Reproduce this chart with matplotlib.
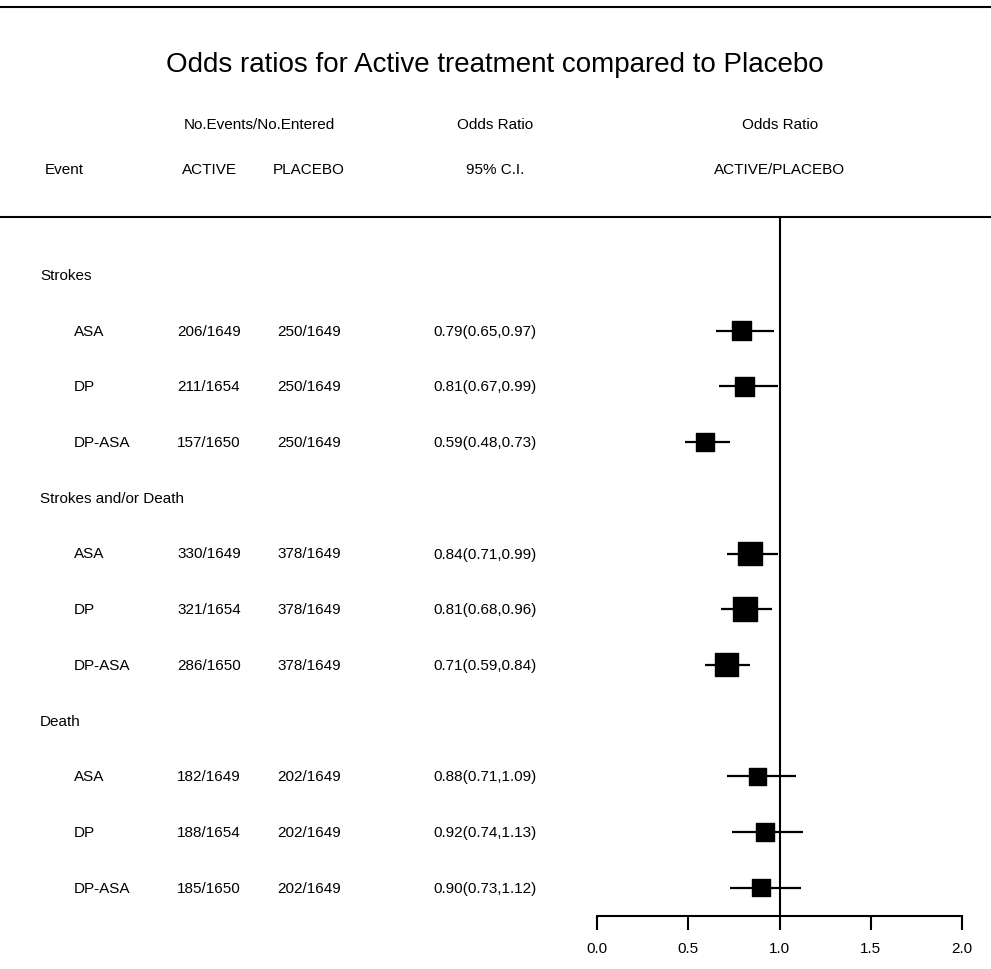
import matplotlib
matplotlib.use('Agg')
import matplotlib.pyplot as plt
import matplotlib.transforms as mtransforms
from matplotlib.lines import Line2D
import numpy as np

plt.rcParams['font.family'] = ['Liberation Sans', 'DejaVu Sans']

groups = ['Strokes', 'Strokes and/or Death', 'Death']
treatments = ['ASA', 'DP', 'DP-ASA']
active_events = [206, 211, 157, 330, 321, 286, 182, 188, 185]
active_n = [1649, 1654, 1650, 1649, 1654, 1650, 1649, 1654, 1650]
placebo_events = [250, 250, 250, 378, 378, 378, 202, 202, 202]
placebo_n = [1649, 1649, 1649, 1649, 1649, 1649, 1649, 1649, 1649]
odds = [0.79, 0.81, 0.59, 0.84, 0.81, 0.71, 0.88, 0.92, 0.90]
ci_low = [0.65, 0.67, 0.48, 0.71, 0.68, 0.59, 0.71, 0.74, 0.73]
ci_high = [0.97, 0.99, 0.73, 0.99, 0.96, 0.84, 1.09, 1.13, 1.12]
xticks = [0.0, 0.5, 1.0, 1.5, 2.0]

W, H = 991, 970
fig = plt.figure(figsize=(W / 100, H / 100), dpi=100)

def px(x):
    return x / W

def py(y):
    return 1 - y / H

# forest plot area: x 597..962 px, y 218..917 px
row0, step = 276, 55.7
ax = fig.add_axes([px(597), py(917), px(962) - px(597), py(218) - py(917)])
ax.set_xlim(0, 2)
ax.set_ylim((917 - row0) / step, (218 - row0) / step)
for s in ['top', 'left', 'right']:
    ax.spines[s].set_visible(False)
ax.spines['bottom'].set_linewidth(1.5)
ax.set_yticks([])
ax.set_xticks(xticks)
ax.set_xticklabels([f'{t:.1f}' for t in xticks], fontsize=11)
ax.tick_params(axis='x', direction='out', length=10, width=1.5, pad=8)
ax.axvline(1.0, color='black', lw=1.5)

# row layout: group header followed by its three treatments
header_rows = []
item_rows = []
r = 0
for g in groups:
    header_rows.append(r)
    r += 1
    for t in treatments:
        item_rows.append(r)
        r += 1
item_rows = np.array(item_rows)

ax.hlines(item_rows, ci_low, ci_high, color='black', lw=1.6)
total = np.array(active_events) + np.array(placebo_events)
side_px = 0.89 * np.sqrt(total)
ax.scatter(odds, item_rows, s=(side_px * 0.72) ** 2, marker='s', color='black', zorder=3)

# text columns: x in figure, y in data rows
tr = mtransforms.blended_transform_factory(fig.transFigure, ax.transData)
fs = 11
for g, hr in zip(groups, header_rows):
    ax.text(px(40), hr, g, transform=tr, fontsize=fs, va='center', ha='left')
for i, yr in enumerate(item_rows):
    ax.text(px(74), yr, treatments[i % 3], transform=tr, fontsize=fs, va='center', ha='left')
    ax.text(px(209), yr, f'{active_events[i]}/{active_n[i]}', transform=tr, fontsize=fs, va='center', ha='center')
    ax.text(px(309), yr, f'{placebo_events[i]}/{placebo_n[i]}', transform=tr, fontsize=fs, va='center', ha='center')
    ax.text(px(485), yr, f'{odds[i]:.2f}({ci_low[i]:.2f},{ci_high[i]:.2f})', transform=tr,
            fontsize=fs, va='center', ha='center')

# headers
fig.text(px(495), py(65), 'Odds ratios for Active treatment compared to Placebo',
         fontsize=20, ha='center', va='center')
fig.text(px(259), py(125), 'No.Events/No.Entered', fontsize=fs, ha='center', va='center')
fig.text(px(495), py(125), 'Odds Ratio', fontsize=fs, ha='center', va='center')
fig.text(px(780), py(125), 'Odds Ratio', fontsize=fs, ha='center', va='center')
fig.text(px(45), py(170), 'Event', fontsize=fs, ha='left', va='center')
fig.text(px(209), py(170), 'ACTIVE', fontsize=fs, ha='center', va='center')
fig.text(px(309), py(170), 'PLACEBO', fontsize=fs, ha='center', va='center')
fig.text(px(495), py(170), '95% C.I.', fontsize=fs, ha='center', va='center')
fig.text(px(780), py(170), 'ACTIVE/PLACEBO', fontsize=fs, ha='center', va='center')

# horizontal rules
for yy in [8, 218]:
    fig.add_artist(Line2D([0, 1], [py(yy), py(yy)], transform=fig.transFigure, color='black', lw=1.5))

fig.savefig('out.png', dpi=100)
